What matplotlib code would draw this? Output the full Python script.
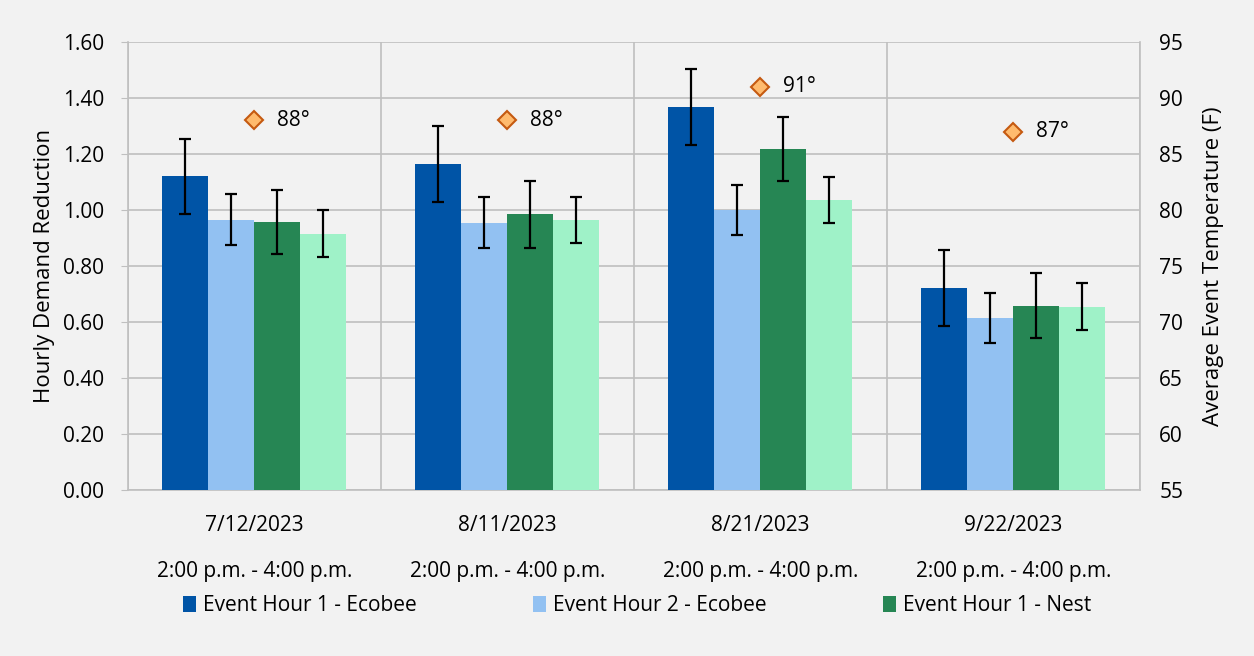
import numpy as np
import matplotlib
matplotlib.use("Agg")
import matplotlib.pyplot as plt
from matplotlib.ticker import FixedLocator

dates = ["7/12/2023", "8/11/2023", "8/21/2023", "9/22/2023"]
window = "2:00 p.m. - 4:00 p.m."
series = ["Event Hour 1 - Ecobee", "Event Hour 2 - Ecobee",
          "Event Hour 1 - Nest", "Event Hour 2 - Nest"]
hour1_ecobee = [1.12, 1.164, 1.368, 0.721]
hour2_ecobee = [0.966, 0.955, 1.000, 0.614]
hour1_nest = [0.957, 0.984, 1.218, 0.658]
hour2_nest = [0.915, 0.963, 1.036, 0.654]
err_h1_ecobee = [0.135, 0.135, 0.136, 0.136]
err_h2_ecobee = [0.091, 0.091, 0.091, 0.090]
err_h1_nest = [0.114, 0.118, 0.114, 0.116]
err_h2_nest = [0.084, 0.082, 0.082, 0.084]
avg_temp = [88, 88, 91, 87]

colors = ["#0054A6", "#92C1F2", "#268654", "#9FF2C8"]
bg = "#F2F2F2"

plt.rcParams['font.family'] = ['Open Sans', 'DejaVu Sans']

fig = plt.figure(figsize=(12.54, 6.56), dpi=100, facecolor=bg)
ax = fig.add_axes([0.102, 0.253, 0.807, 0.683])
ax.set_facecolor(bg)

x = np.arange(len(dates))
w = 0.182
vals = [hour1_ecobee, hour2_ecobee, hour1_nest, hour2_nest]
errs = [err_h1_ecobee, err_h2_ecobee, err_h1_nest, err_h2_nest]
bars = []
for i in range(4):
    b = ax.bar(x + (i - 1.5) * w, vals[i], w, color=colors[i], label=series[i],
               yerr=errs[i], capsize=4.5,
               error_kw=dict(elinewidth=1.6, capthick=1.6, ecolor="black"),
               zorder=3)
    bars.append(b)

ax.set_xlim(-0.5, 3.5)
ax.set_ylim(0, 1.6)
ax.set_yticks(np.arange(0, 1.61, 0.2))
ax.set_yticklabels([f"{v:.2f}" for v in np.arange(0, 1.61, 0.2)], fontsize=15)
ax.set_xticks(x)
ax.set_xticklabels([f"{d}\n\n{window}" for d in dates], fontsize=15, linespacing=1.12)
ax.xaxis.set_minor_locator(FixedLocator(np.arange(-0.5, 3.6, 1)))
ax.tick_params(axis='x', which='major', length=0, pad=18)
ax.tick_params(axis='x', which='minor', length=0)
ax.tick_params(axis='y', length=5, color="#BFBFBF", pad=12)
ax.grid(axis='y', color="#BFBFBF", linewidth=1.2, zorder=0)
ax.grid(axis='x', which='minor', color="#BFBFBF", linewidth=1.2, zorder=0)
ax.spines["top"].set_visible(False)
for s in ["left", "right", "bottom"]:
    ax.spines[s].set_color("#BFBFBF")
    ax.spines[s].set_linewidth(1.2)
ax.set_ylabel("Hourly Demand Reduction", fontsize=16, labelpad=6)

ax2 = ax.twinx()
ax2.set_ylim(55, 95)
ax2.set_yticks(range(55, 96, 5))
ax2.tick_params(axis='y', length=0, labelsize=15, pad=14)
for s in ax2.spines.values():
    s.set_visible(False)
ax2.set_ylabel("Average Event Temperature (F)", fontsize=16, labelpad=14)
ax2.plot(x, avg_temp, linestyle="none", marker="D", markersize=9,
         markerfacecolor="#FFBB6E", markeredgecolor="#C55A11",
         markeredgewidth=1.5, zorder=5)
for xi, t in zip(x, avg_temp):
    ax2.annotate(f"{t}°", (xi, t), xytext=(16, 0), textcoords="offset points",
                 va="center", ha="left", fontsize=15)

fig.legend(handles=bars[:3], labels=series[:3], loc="center left",
           bbox_to_anchor=(0.131, 0.077), ncol=3, frameon=False,
           fontsize=15, handlelength=0.6, handleheight=0.8,
           handletextpad=0.35, columnspacing=5.6)

fig.savefig("out.png", dpi=100, facecolor=bg)
